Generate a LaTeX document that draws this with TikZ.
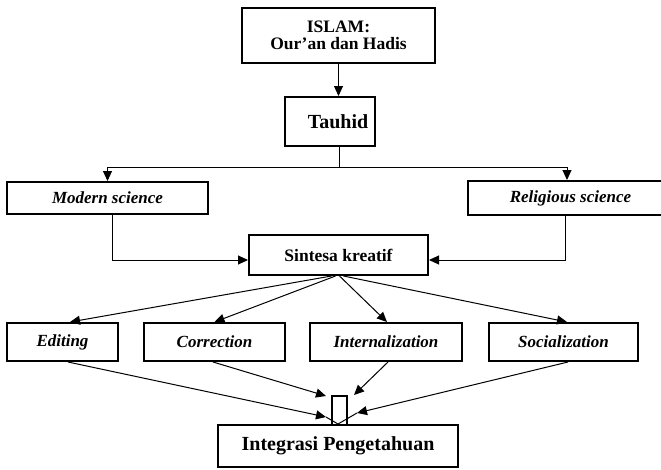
\documentclass[tikz,border=0pt]{standalone}
\usepackage{fontspec}
\setmainfont{Liberation Serif}
\usetikzlibrary{arrows.meta,calc}
\begin{document}
\begin{tikzpicture}[x=1pt,y=-1pt,
  box/.style={draw,line width=2pt,rectangle,inner sep=0pt,align=center,font=\bfseries},
  ibox/.style={box,font=\bfseries\itshape\fontsize{17}{17}\selectfont},
  conn/.style={line width=1pt},
  arr/.style={conn,-{Triangle[length=10pt,width=9pt]}}]
\useasboundingbox (0,0) rectangle (661,469);
\begin{scope}
\clip (0,0) rectangle (661,469);

% boxes
\node[box,minimum width=193,minimum height=55,font=\bfseries\fontsize{17.5}{17}\selectfont]
  (islam) at (338.5,35.5) {ISLAM:\\Our’an dan Hadis};
\node[box,minimum width=90,minimum height=49,font=\bfseries\fontsize{20}{22}\selectfont]
  (tauhid) at (330,121.5) {\hspace*{16pt}Tauhid};
\node[ibox,minimum width=201,minimum height=32] (modern) at (107.5,198) {\raisebox{-2pt}{Modern science}};
\node[ibox,minimum width=195,minimum height=34] (religious) at (565.5,198) {\hspace*{10pt}\raisebox{-2pt}{Religious science}};
\node[box,minimum width=179,minimum height=40,font=\bfseries\fontsize{17.5}{18}\selectfont]
  (sintesa) at (338.5,255) {Sintesa kreatif};
\node[ibox,minimum width=111,minimum height=38] (editing) at (62.5,342) {Editing};
\node[ibox,minimum width=141,minimum height=38] (correction) at (214.5,342) {Correction};
\node[ibox,minimum width=152,minimum height=38] (internal) at (386,342) {Internalization};
\node[ibox,minimum width=149,minimum height=38] (social) at (563.5,342) {Socialization};
\node[box,minimum width=240,minimum height=42,font=\bfseries\fontsize{20}{21}\selectfont]
  (integrasi) at (338,446) {Integrasi Pengetahuan};

% top part
\draw[arr] (islam.south) -- (islam.south |- tauhid.north);
\coordinate (split) at (339,167.5);
\draw[conn] (split |- tauhid.south) -- (split);
\draw[arr] (split) -| (modern.north);
\draw[arr] (split) -| ([xshift=1.5pt]religious.north);

% into the synthesis box
\draw[arr] ([xshift=4.5pt]modern.south) |- ([yshift=-5pt]sintesa.west);
\draw[arr] (religious.south) |- ([yshift=-5pt]sintesa.east);

% fan out to the four processes
\draw[arr] ([xshift=-7pt]sintesa.south) -- ([xshift=7.5pt]editing.north);
\draw[arr] ([xshift=-3pt]sintesa.south) -- (correction.north);
\draw[arr] ([xshift=1pt]sintesa.south) -- ([xshift=1pt]internal.north);
\draw[arr] ([xshift=5pt]sintesa.south) -- ([xshift=3.5pt]social.north);

% converge on the integration box
\coordinate (tipA) at ($(integrasi.north)+(-12,-7)$);
\coordinate (tipB) at ($(integrasi.north)+(-12,-28)$);
\coordinate (tipC) at ($(integrasi.north)+(16,-29)$);
\coordinate (tipD) at ($(integrasi.north)+(19,-11)$);
\draw[arr] ([xshift=5.5pt]editing.south) -- (tipA);
\draw[conn] (tipA) -- (integrasi.north);
\draw[arr] ([xshift=-1.5pt]correction.south) -- (tipB);
\draw[arr] ([xshift=2pt]internal.south) -- (tipC);
\draw[arr] ([xshift=4.5pt]social.south) -- (tipD);
\draw[conn] (tipD) -- (integrasi.north);

% hollow block arrow stem
\draw[line width=1.2pt] ([xshift=-6pt]integrasi.north) -- ++(0,-28) -- ++(15,0) -- ++(0,28);
\end{scope}
\end{tikzpicture}
\end{document}
